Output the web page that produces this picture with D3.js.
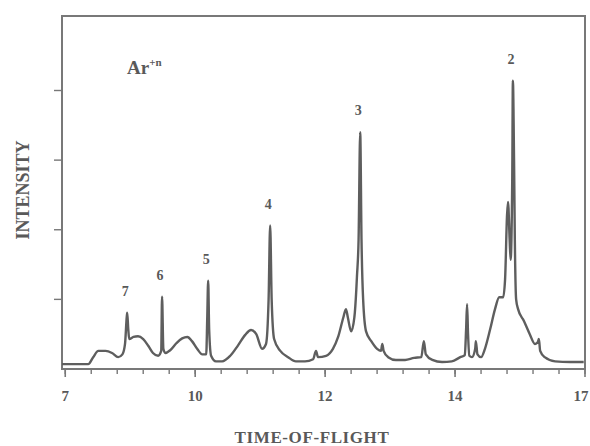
<!DOCTYPE html>
<html>
<head>
<meta charset="utf-8">
<script src="https://cdn.jsdelivr.net/npm/d3@7"></script>
<style>
  html, body { margin: 0; padding: 0; background: #fff; }
  svg { display: block; }
  text { font-family: "Liberation Serif", "DejaVu Serif", serif; font-weight: bold; fill: #595959; }
</style>
</head>
<body>
<svg id="chart" width="590" height="446"></svg>
<script>
// ---- data (time-of-flight, intensity) ----
const tof = [7.95,8.354,8.43,8.51,8.62,8.72,8.815,8.88,8.92,8.946,8.954,8.97,8.985,9.05,9.12,9.2,9.28,9.35,9.43,9.477,9.49,9.51,9.54,9.615,9.71,9.8,9.88,9.95,10.03,10.11,10.17,10.185,10.2,10.215,10.245,10.32,10.415,10.54,10.66,10.77,10.86,10.94,11.03,11.09,11.13,11.154,11.177,11.215,11.31,11.43,11.55,11.69,11.815,11.86,11.89,12.015,12.12,12.2,12.28,12.32,12.35,12.4,12.45,12.48,12.49,12.515,12.54,12.56,12.585,12.63,12.71,12.8,12.86,12.88,12.9,12.97,13.09,13.23,13.37,13.48,13.52,13.55,13.65,13.8,13.95,14.08,14.15,14.17,14.185,14.2,14.22,14.26,14.31,14.32,14.345,14.4,14.46,14.54,14.615,14.68,14.74,14.77,14.8,14.815,14.84,14.855,14.88,14.89,14.908,14.92,14.94,14.97,15.06,15.15,15.23,15.275,15.29,15.31,15.38,15.54,15.77,15.98];
const intensity = [0.07,0.07,0.17,0.26,0.26,0.23,0.17,0.21,0.36,0.74,0.81,0.57,0.43,0.46,0.47,0.43,0.33,0.23,0.19,0.26,1.04,0.29,0.23,0.27,0.37,0.44,0.46,0.40,0.29,0.21,0.21,0.71,1.27,0.57,0.19,0.11,0.11,0.19,0.34,0.49,0.56,0.50,0.29,0.36,1.0,2.06,1.0,0.43,0.26,0.17,0.11,0.11,0.14,0.26,0.17,0.19,0.29,0.46,0.74,0.86,0.74,0.54,0.74,1.14,1.33,1.86,3.4,1.86,1.0,0.54,0.40,0.29,0.26,0.36,0.26,0.17,0.13,0.13,0.16,0.17,0.40,0.21,0.13,0.10,0.11,0.17,0.2,0.57,0.93,0.5,0.19,0.17,0.29,0.40,0.21,0.17,0.29,0.57,0.86,1.03,1.03,1.29,2.21,2.4,1.86,1.57,2.71,4.14,3.0,1.86,1.0,0.86,0.69,0.5,0.36,0.39,0.43,0.26,0.17,0.11,0.1,0.1];

const peakNames = ["7","6","5","4","3","2"];
const peakTof = [8.954, 9.49, 10.2, 11.154, 12.54, 14.89];
const peakHeight = [0.81, 1.04, 1.27, 2.06, 3.4, 4.14];

const xTickValues = [8, 10, 12, 14, 16];
const xTickLabels = ["7", "10", "12", "14", "17"];
const yTickValues = [1, 2, 3, 4];

(function () {
  // ---- layout ----
  const svg = d3.select("#chart");
  const W = 590;
  const mL = 62, mR = 585, mT = 16, mB = 369;
  const x = d3.scaleLinear().domain([7.95, 16]).range([mL, mR]);
  const y = d3.scaleLinear().domain([0, 5.07]).range([mB, mT]);
  const ink = "#5e5e5e";
  const frameCol = "#787878";

  // frame
  svg.append("rect")
    .attr("x", mL).attr("y", mT)
    .attr("width", mR - mL).attr("height", mB - mT)
    .attr("fill", "none").attr("stroke", frameCol).attr("stroke-width", 2);

  // x axis: minor + major ticks
  const xMinor = d3.range(8, 16.001, 0.4);
  svg.append("g").selectAll("line").data(xMinor).join("line")
    .attr("x1", d => x(d)).attr("x2", d => x(d))
    .attr("y1", mB).attr("y2", mB + 5)
    .attr("stroke", frameCol).attr("stroke-width", 1.4);
  svg.append("g").selectAll("line").data(xTickValues).join("line")
    .attr("x1", d => x(d)).attr("x2", d => x(d))
    .attr("y1", mB).attr("y2", mB + 8)
    .attr("stroke", frameCol).attr("stroke-width", 1.6);
  const tl = svg.append("g").selectAll("text").data(xTickValues).join("text")
    .attr("x", d => x(d)).attr("y", 401)
    .attr("text-anchor", "middle")
    .attr("font-size", 15)
    .text((d, i) => xTickLabels[i]);
  // keep the edge label inside the window
  tl.each(function () {
    const b = this.getBBox();
    if (b.x + b.width > W - 1) {
      d3.select(this).attr("x", +d3.select(this).attr("x") - (b.x + b.width - (W - 1)));
    }
  });

  // y ticks
  svg.append("g").selectAll("line").data(yTickValues).join("line")
    .attr("x1", mL - 8).attr("x2", mL)
    .attr("y1", d => y(d)).attr("y2", d => y(d))
    .attr("stroke", frameCol).attr("stroke-width", 1.4);

  // trace
  const pts = tof.map((t, i) => [t, intensity[i]]);
  const line = d3.line().x(d => x(d[0])).y(d => y(d[1])).curve(d3.curveMonotoneX);
  svg.append("path").datum(pts)
    .attr("d", line)
    .attr("fill", "none")
    .attr("stroke", ink)
    .attr("stroke-width", 2.4)
    .attr("stroke-linejoin", "round");

  // peak labels
  svg.append("g").selectAll("text").data(peakNames).join("text")
    .attr("x", (d, i) => x(peakTof[i]) - 2)
    .attr("y", (d, i) => y(peakHeight[i]) - 17)
    .attr("text-anchor", "middle")
    .attr("font-size", 14)
    .text(d => d);

  // species label
  const sp = svg.append("text").attr("x", 127).attr("y", 74).attr("font-size", 19);
  sp.append("tspan").text("Ar");
  sp.append("tspan").attr("dy", -8).attr("font-size", 11).text("+n");

  // axis titles
  svg.append("text")
    .attr("transform", "translate(29,190) rotate(-90)")
    .attr("text-anchor", "middle")
    .attr("font-size", 18)
    .text("INTENSITY");
  svg.append("text")
    .attr("x", 312).attr("y", 443)
    .attr("text-anchor", "middle")
    .attr("font-size", 17)
    .attr("letter-spacing", 0.6)
    .text("TIME-OF-FLIGHT");
})();
</script>
</body>
</html>
